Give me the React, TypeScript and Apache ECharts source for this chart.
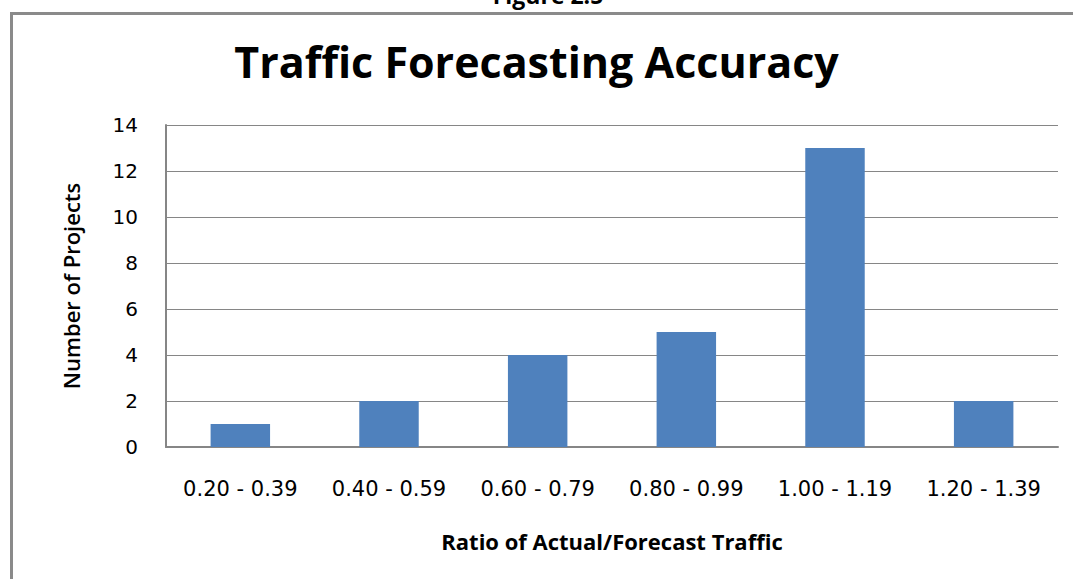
import React, { useEffect, useRef } from "react";
import * as echarts from "echarts";

const categories = ["0.20 - 0.39", "0.40 - 0.59", "0.60 - 0.79", "0.80 - 0.99", "1.00 - 1.19", "1.20 - 1.39"];
const projectCounts = [1, 2, 4, 5, 13, 2];
const yTicks = { min: 0, max: 14, interval: 2 };

const TITLE = "Traffic Forecasting Accuracy";
const FIGURE_LABEL = "Figure 2.5";
const X_NAME = "Ratio of Actual/Forecast Traffic";
const Y_NAME = "Number of Projects";

export default function App() {
  const ref = useRef<HTMLDivElement>(null);
  useEffect(() => {
    document.body.style.margin = "0";
    const chart = echarts.init(ref.current!, null, { renderer: "svg" });
    const grey = "#868686";
    chart.setOption({
      animation: false,
      backgroundColor: "#ffffff",
      title: {
        text: TITLE,
        left: "center",
        top: 35,
        textStyle: { fontFamily: "Open Sans", fontWeight: "bold", fontSize: 43, color: "#000" },
      },
      graphic: [
        {
          type: "rect",
          shape: { x: 11.5, y: 13.5, width: 1100, height: 620 },
          style: { fill: "none", stroke: "#8a8a8a", lineWidth: 3 },
          silent: true,
        },
        {
          type: "text",
          x: 548,
          y: 6,
          style: {
            text: FIGURE_LABEL,
            fontFamily: "Open Sans",
            fontWeight: "bold",
            fontSize: 23,
            fill: "#000",
            textAlign: "center",
            textVerticalAlign: "bottom",
          },
          silent: true,
        },
      ],
      grid: { left: 166, top: 125, right: 15, bottom: 132, containLabel: false },
      xAxis: {
        type: "category",
        data: categories,
        name: X_NAME,
        nameLocation: "middle",
        nameGap: 83,
        nameTextStyle: { fontFamily: "Open Sans", fontWeight: "bold", fontSize: 22, color: "#000" },
        axisLine: { show: true, lineStyle: { color: grey, width: 2 } },
        axisTick: { show: false },
        axisLabel: { interval: 0, hideOverlap: false, margin: 31, fontFamily: "DejaVu Sans", fontSize: 21, color: "#000" },
      },
      yAxis: {
        type: "value",
        min: yTicks.min,
        max: yTicks.max,
        interval: yTicks.interval,
        name: Y_NAME,
        nameLocation: "middle",
        nameGap: 84,
        nameRotate: 90,
        nameTextStyle: { fontFamily: "Open Sans", fontWeight: 600, fontSize: 22, color: "#000" },
        axisLine: { show: true, lineStyle: { color: grey, width: 2 } },
        axisTick: { show: false },
        axisLabel: { margin: 28, fontFamily: "DejaVu Sans", fontSize: 20, color: "#000" },
        splitLine: { show: true, lineStyle: { color: grey, width: 1 } },
      },
      series: [
        {
          type: "bar",
          data: projectCounts,
          barWidth: "40%",
          itemStyle: { color: "#4F81BD" },
        },
      ],
    });
    return () => chart.dispose();
  }, []);
  return <div ref={ref} style={{ position: "absolute", left: 0, top: 0, width: 1073, height: 579 }} />;
}
